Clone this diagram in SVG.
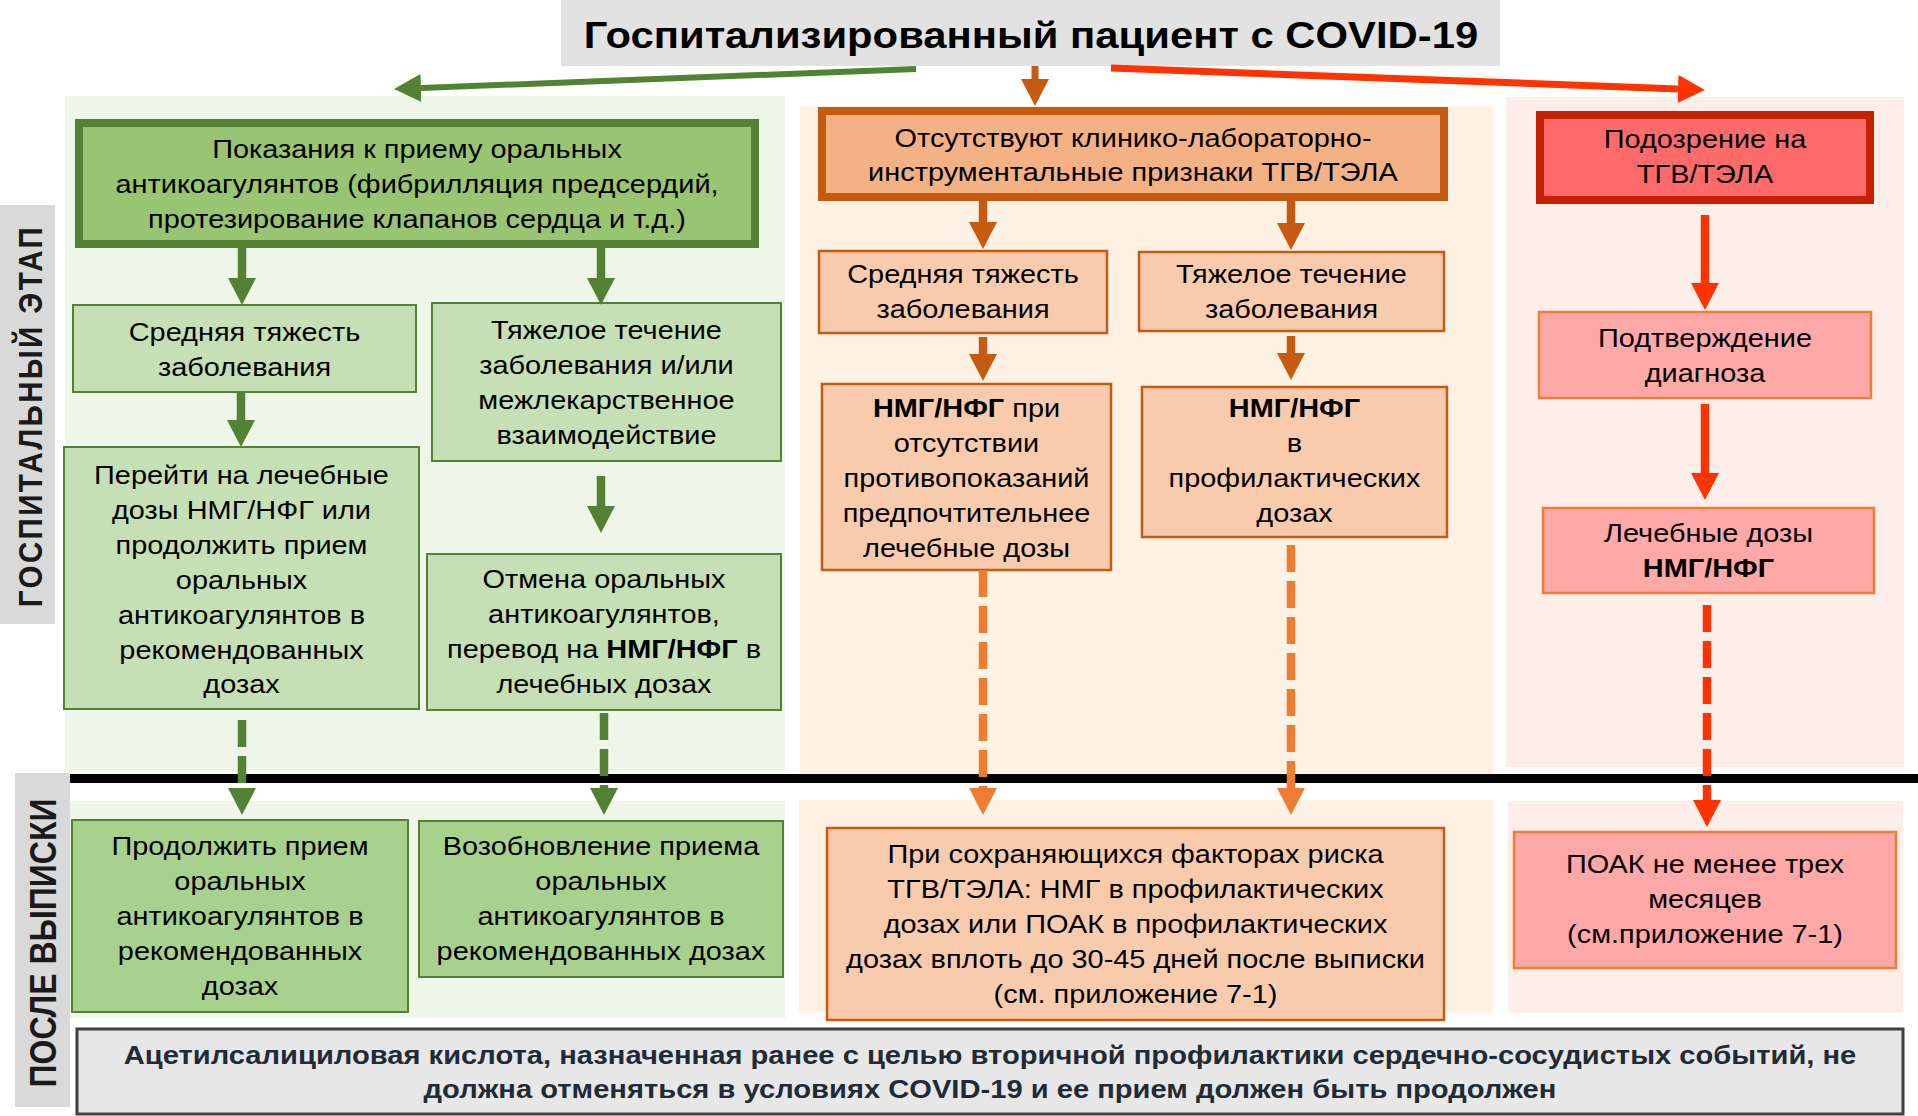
<svg xmlns="http://www.w3.org/2000/svg" width="1918" height="1116" viewBox="0 0 1918 1116">
<style>
.t{font-family:"Liberation Sans",Arial,sans-serif;font-size:25.6px;text-anchor:middle;fill:#000}
.b{font-weight:bold}
.gt{fill:#99c472;stroke:#548235;stroke-width:8}
.gl{fill:#c5e0b4;stroke:#548235;stroke-width:2}
.gd{fill:#a9d18e;stroke:#548235;stroke-width:2}
.ot{fill:#f4b183;stroke:#c55a11;stroke-width:8}
.ol{fill:#f8cbad;stroke:#c55a11;stroke-width:2.5}
.rt{fill:#ff6b6b;stroke:#c42200;stroke-width:8}
.rl{fill:#ffa8a8;stroke:#ef7d3a;stroke-width:2.5}
.c{fill:none;stroke-width:8.5}
.cg{stroke:#548235}
.co{stroke:#c55a11}
.co2{stroke:#ed7d31}
.cr{stroke:#ff3300}
.d{stroke-dasharray:27 9}
.lab{font-family:"Liberation Sans",Arial,sans-serif;font-weight:bold;fill:#1a1a1a;text-anchor:middle}
</style>
<defs>
<marker id="mg" markerUnits="userSpaceOnUse" viewBox="0 0 28 28" markerWidth="28" markerHeight="28" refX="0" refY="14" orient="auto"><path d="M0,0 L27,14 L0,28 z" fill="#548235"/></marker>
<marker id="mo" markerUnits="userSpaceOnUse" viewBox="0 0 28 28" markerWidth="28" markerHeight="28" refX="0" refY="14" orient="auto"><path d="M0,0 L27,14 L0,28 z" fill="#c55a11"/></marker>
<marker id="mo2" markerUnits="userSpaceOnUse" viewBox="0 0 28 28" markerWidth="28" markerHeight="28" refX="0" refY="14" orient="auto"><path d="M0,0 L27,14 L0,28 z" fill="#ed7d31"/></marker>
<marker id="mr" markerUnits="userSpaceOnUse" viewBox="0 0 28 28" markerWidth="28" markerHeight="28" refX="0" refY="14" orient="auto"><path d="M0,0 L27,14 L0,28 z" fill="#ff3300"/></marker>
</defs>
<rect width="1918" height="1116" fill="#fff"/>
<g id="panels">
<rect x="65" y="96" width="720" height="675" fill="#eef5e9"/>
<rect x="800" y="106" width="693" height="667" fill="#fef2e4"/>
<rect x="1506" y="97" width="398" height="670" fill="#fdeeea"/>
<rect x="70" y="801" width="715" height="217" fill="#eef5e9"/>
<rect x="799" y="800" width="694" height="213" fill="#fef2e4"/>
<rect x="1508" y="801" width="395" height="212" fill="#fdeeea"/>
<rect x="70" y="774" width="1848" height="9" fill="#000"/>
</g>
<g id="label-hospital">
<rect x="0" y="205" width="55" height="419" fill="#d9d9d9"/>
<text class="lab" style="font-size:29.5px;letter-spacing:2.4px" transform="translate(42 416) scale(1.13 1) rotate(-90)">ГОСПИТАЛЬНЫЙ ЭТАП</text>
</g>
<g id="label-discharge">
<rect x="15" y="773" width="55" height="334" fill="#d9d9d9"/>
<text class="lab" style="font-size:32px" transform="translate(56 943) scale(1.13 1) rotate(-90)">ПОСЛЕ ВЫПИСКИ</text>
</g>
<g id="title">
<rect x="561" y="0" width="939" height="66" fill="#e2e2e2"/>
<text class="t b" style="font-size:37px" transform="translate(1031 0) scale(1.13 1)"><tspan x="0" y="48">Госпитализированный пациент с COVID-19</tspan></text>
</g>
<g id="n-indications">
<rect class="gt" x="79" y="123" width="676" height="121"/>
<text class="t" transform="translate(417 0) scale(1.13 1)"><tspan x="0" y="158">Показания к приему оральных</tspan><tspan x="0" y="193">антикоагулянтов (фибрилляция предсердий,</tspan><tspan x="0" y="228">протезирование клапанов сердца и т.д.)</tspan></text>
</g>
<g id="n-g-moderate">
<rect class="gl" x="73" y="305" width="343" height="87"/>
<text class="t" transform="translate(244.5 0) scale(1.13 1)"><tspan x="0" y="341">Средняя тяжесть</tspan><tspan x="0" y="376">заболевания</tspan></text>
</g>
<g id="n-g-severe">
<rect class="gl" x="432" y="303" width="349" height="158"/>
<text class="t" transform="translate(606.5 0) scale(1.13 1)"><tspan x="0" y="339">Тяжелое течение</tspan><tspan x="0" y="374">заболевания и/или</tspan><tspan x="0" y="409">межлекарственное</tspan><tspan x="0" y="444">взаимодействие</tspan></text>
</g>
<g id="n-g-switch">
<rect class="gl" x="64" y="447" width="355" height="262"/>
<text class="t" transform="translate(241.5 0) scale(1.13 1)"><tspan x="0" y="484">Перейти на лечебные</tspan><tspan x="0" y="519">дозы НМГ/НФГ или</tspan><tspan x="0" y="554">продолжить прием</tspan><tspan x="0" y="589">оральных</tspan><tspan x="0" y="624">антикоагулянтов в</tspan><tspan x="0" y="659">рекомендованных</tspan><tspan x="0" y="693">дозах</tspan></text>
</g>
<g id="n-g-cancel">
<rect class="gl" x="427" y="554" width="354" height="156"/>
<text class="t" transform="translate(604 0) scale(1.13 1)"><tspan x="0" y="588">Отмена оральных</tspan><tspan x="0" y="623">антикоагулянтов,</tspan><tspan x="0" y="658">перевод на <tspan class="b">НМГ/НФГ</tspan> в</tspan><tspan x="0" y="693">лечебных дозах</tspan></text>
</g>
<g id="n-g-continue">
<rect class="gd" x="72" y="820" width="336" height="192"/>
<text class="t" transform="translate(240 0) scale(1.13 1)"><tspan x="0" y="855">Продолжить прием</tspan><tspan x="0" y="890">оральных</tspan><tspan x="0" y="925">антикоагулянтов в</tspan><tspan x="0" y="960">рекомендованных</tspan><tspan x="0" y="995">дозах</tspan></text>
</g>
<g id="n-g-resume">
<rect class="gd" x="419" y="821" width="364" height="156"/>
<text class="t" transform="translate(601 0) scale(1.13 1)"><tspan x="0" y="855">Возобновление приема</tspan><tspan x="0" y="890">оральных</tspan><tspan x="0" y="925">антикоагулянтов в</tspan><tspan x="0" y="960">рекомендованных дозах</tspan></text>
</g>
<g id="n-nosigns">
<rect class="ot" x="822" y="111" width="622" height="86"/>
<text class="t" transform="translate(1133 0) scale(1.13 1)"><tspan x="0" y="147">Отсутствуют клинико-лабораторно-</tspan><tspan x="0" y="181">инструментальные признаки ТГВ/ТЭЛА</tspan></text>
</g>
<g id="n-o-moderate">
<rect class="ol" x="819" y="251" width="288" height="82"/>
<text class="t" transform="translate(963 0) scale(1.13 1)"><tspan x="0" y="283">Средняя тяжесть</tspan><tspan x="0" y="318">заболевания</tspan></text>
</g>
<g id="n-o-severe">
<rect class="ol" x="1139" y="252" width="305" height="79"/>
<text class="t" transform="translate(1291.5 0) scale(1.13 1)"><tspan x="0" y="283">Тяжелое течение</tspan><tspan x="0" y="318">заболевания</tspan></text>
</g>
<g id="n-o-therapeutic">
<rect class="ol" x="822" y="384" width="289" height="186"/>
<text class="t" transform="translate(966.5 0) scale(1.13 1)"><tspan x="0" y="417"><tspan class="b">НМГ/НФГ</tspan> при</tspan><tspan x="0" y="452">отсутствии</tspan><tspan x="0" y="487">противопоказаний</tspan><tspan x="0" y="522">предпочтительнее</tspan><tspan x="0" y="557">лечебные дозы</tspan></text>
</g>
<g id="n-o-prophylactic">
<rect class="ol" x="1142" y="387" width="305" height="150"/>
<text class="t" transform="translate(1294.5 0) scale(1.13 1)"><tspan x="0" y="417" class="b">НМГ/НФГ</tspan><tspan x="0" y="452">в</tspan><tspan x="0" y="487">профилактических</tspan><tspan x="0" y="522">дозах</tspan></text>
</g>
<g id="n-o-discharge">
<rect class="ol" x="827" y="828" width="617" height="192"/>
<text class="t" transform="translate(1135.5 0) scale(1.13 1)"><tspan x="0" y="863">При сохраняющихся факторах риска</tspan><tspan x="0" y="898">ТГВ/ТЭЛА: НМГ в профилактических</tspan><tspan x="0" y="933">дозах или ПОАК в профилактических</tspan><tspan x="0" y="968">дозах вплоть до 30-45 дней после выписки</tspan><tspan x="0" y="1003">(см. приложение 7-1)</tspan></text>
</g>
<g id="n-suspicion">
<rect class="rt" x="1540" y="115" width="330" height="85"/>
<text class="t" transform="translate(1705 0) scale(1.13 1)"><tspan x="0" y="148">Подозрение на</tspan><tspan x="0" y="183">ТГВ/ТЭЛА</tspan></text>
</g>
<g id="n-confirm">
<rect class="rl" x="1539" y="312" width="332" height="86"/>
<text class="t" transform="translate(1705 0) scale(1.13 1)"><tspan x="0" y="347">Подтверждение</tspan><tspan x="0" y="382">диагноза</tspan></text>
</g>
<g id="n-r-therapeutic">
<rect class="rl" x="1543" y="508" width="331" height="85"/>
<text class="t" transform="translate(1708.5 0) scale(1.13 1)"><tspan x="0" y="542">Лечебные дозы</tspan><tspan x="0" y="577" class="b">НМГ/НФГ</tspan></text>
</g>
<g id="n-r-doac">
<rect class="rl" x="1514" y="832" width="382" height="136"/>
<text class="t" transform="translate(1705 0) scale(1.13 1)"><tspan x="0" y="873">ПОАК не менее трех</tspan><tspan x="0" y="908">месяцев</tspan><tspan x="0" y="943">(см.приложение 7-1)</tspan></text>
</g>
<g id="n-aspirin">
<rect x="77" y="1029" width="1826" height="85" fill="#e7e7e7" stroke="#404040" stroke-width="3"/>
<text class="t b" style="font-size:25.8px;fill:#222a35" transform="translate(990 0) scale(1.13 1)"><tspan x="0" y="1064">Ацетилсалициловая кислота, назначенная ранее с целью вторичной профилактики сердечно-сосудистых событий, не</tspan><tspan x="0" y="1098">должна отменяться в условиях COVID-19 и ее прием должен быть продолжен</tspan></text>
</g>
<g id="connectors">
<line class="c cg" style="stroke-width:6" x1="916" y1="69" x2="421" y2="88" marker-end="url(#mg)"/>
<line class="c co" style="stroke-width:7" x1="1035" y1="66" x2="1035" y2="79" marker-end="url(#mo)"/>
<line class="c cr" style="stroke-width:7" x1="1111" y1="68" x2="1678" y2="89" marker-end="url(#mr)"/>
<line class="c cg" x1="242" y1="248" x2="242" y2="278" marker-end="url(#mg)"/>
<line class="c cg" x1="601" y1="248" x2="601" y2="278" marker-end="url(#mg)"/>
<line class="c cg" x1="241" y1="392" x2="241" y2="420" marker-end="url(#mg)"/>
<line class="c cg" x1="601" y1="476" x2="601" y2="506" marker-end="url(#mg)"/>
<line class="c cg d" x1="242" y1="720" x2="242" y2="788" marker-end="url(#mg)"/>
<line class="c cg d" x1="604" y1="713" x2="604" y2="788" marker-end="url(#mg)"/>
<line class="c co" x1="983" y1="201" x2="983" y2="222" marker-end="url(#mo)"/>
<line class="c co" x1="1291" y1="201" x2="1291" y2="223" marker-end="url(#mo)"/>
<line class="c co" x1="983" y1="337" x2="983" y2="354" marker-end="url(#mo)"/>
<line class="c co" x1="1291" y1="336" x2="1291" y2="353" marker-end="url(#mo)"/>
<line class="c co2 d" x1="983" y1="570" x2="983" y2="788" marker-end="url(#mo2)"/>
<line class="c co2 d" x1="1291" y1="545" x2="1291" y2="788" marker-end="url(#mo2)"/>
<line class="c cr" x1="1705" y1="215" x2="1705" y2="283" marker-end="url(#mr)"/>
<line class="c cr" x1="1705" y1="404" x2="1705" y2="473" marker-end="url(#mr)"/>
<line class="c cr d" x1="1707" y1="605" x2="1707" y2="800" marker-end="url(#mr)"/>
</g>
</svg>
